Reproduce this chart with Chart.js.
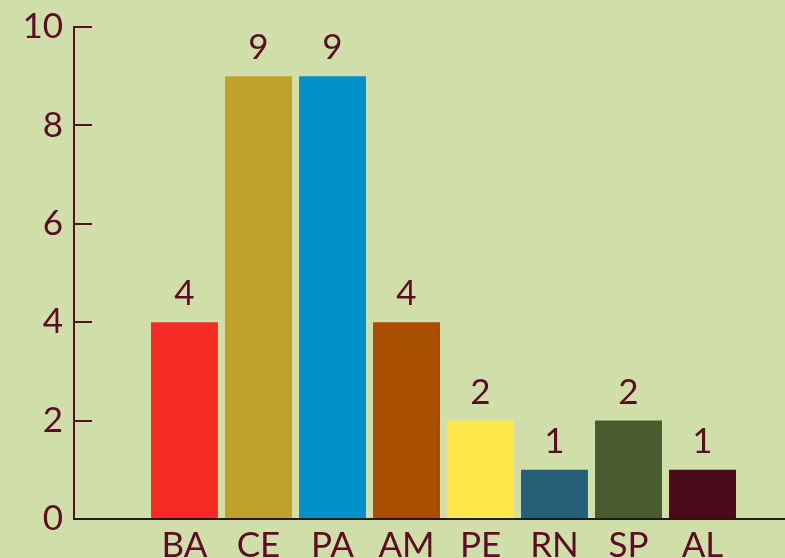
<!DOCTYPE html>
<html>
<head>
<meta charset="utf-8">
<script src="https://cdn.jsdelivr.net/npm/chart.js@4"></script>
<style>
  html, body { margin: 0; padding: 0; background: #d0dfa9; }
  canvas { display: block; }
</style>
</head>
<body>
<canvas id="chart" width="785" height="558"></canvas>
<script>
// data
const states = ["BA", "CE", "PA", "AM", "PE", "RN", "SP", "AL"];
const counts = [4, 9, 9, 4, 2, 1, 2, 1];
const barColors = ["#f72c25", "#bfa22a", "#0190c9", "#a84e00", "#fde74b", "#275f78", "#4a5a2f", "#4b0a1c"];
const yTicks = [0, 2, 4, 6, 8, 10];

const ink = "#5a0d24";
Chart.defaults.font.family = "Lato";

// paper background
const paper = {
    id: "paper",
    beforeDraw(chart) {
        const ctx = chart.ctx;
        ctx.save();
        ctx.fillStyle = "#d0dfa9";
        ctx.fillRect(0, 0, chart.width, chart.height);
        ctx.restore();
    }
};

// numbers over the bars
const valueLabels = {
    id: "valueLabels",
    afterDatasetsDraw(chart) {
        const ctx = chart.ctx;
        const meta = chart.getDatasetMeta(0);
        ctx.save();
        ctx.fillStyle = ink;
        ctx.font = "35px Lato";
        ctx.textAlign = "center";
        ctx.textBaseline = "alphabetic";
        meta.data.forEach((bar, i) => {
            ctx.fillText(String(counts[i]), bar.x, bar.y - 17);
        });
        ctx.restore();
    }
};

new Chart(document.getElementById("chart"), {
    type: "bar",
    data: {
        datasets: [{
            data: counts.map((v, i) => ({ x: i, y: v })),
            backgroundColor: barColors,
            borderWidth: 0,
            categoryPercentage: 1,
            barPercentage: 0.905,
        }],
    },
    options: {
        responsive: false,
        animation: false,
        layout: { padding: { top: 27, right: 0, left: 0, bottom: 0 } },
        plugins: {
            legend: { display: false },
            tooltip: { enabled: false },
        },
        scales: {
            x: {
                type: "linear",
                offset: false,
                min: -1.4932,
                max: 8.1149,
                afterBuildTicks: (scale) => {
                    scale.ticks = states.map((s, i) => ({ value: i }));
                },
                afterFit: (scale) => {
                    scale.height = 39;
                    scale.paddingLeft = 0;
                    scale.paddingRight = 0;
                },
                grid: { display: false, drawTicks: false, offset: false },
                border: { color: "#1f1c12", width: 2 },
                ticks: {
                    color: ink,
                    font: { size: 35 },
                    padding: 6,
                    maxRotation: 0,
                    autoSkip: false,
                    callback: (v) => states[v] ?? "",
                },
            },
            y: {
                min: 0,
                max: 10,
                afterBuildTicks: (scale) => {
                    scale.ticks = yTicks.map(v => ({ value: v }));
                },
                afterFit: (scale) => {
                    scale.width = 74;
                    scale.paddingTop = 0;
                    scale.paddingBottom = 0;
                },
                grid: {
                    drawOnChartArea: false,
                    drawTicks: true,
                    tickLength: -18,
                    color: ink,
                    lineWidth: 2,
                },
                border: { color: ink, width: 2 },
                ticks: {
                    color: ink,
                    font: { size: 35 },
                    padding: 29,
                },
            },
        },
    },
    plugins: [paper, valueLabels],
});
</script>
</body>
</html>
